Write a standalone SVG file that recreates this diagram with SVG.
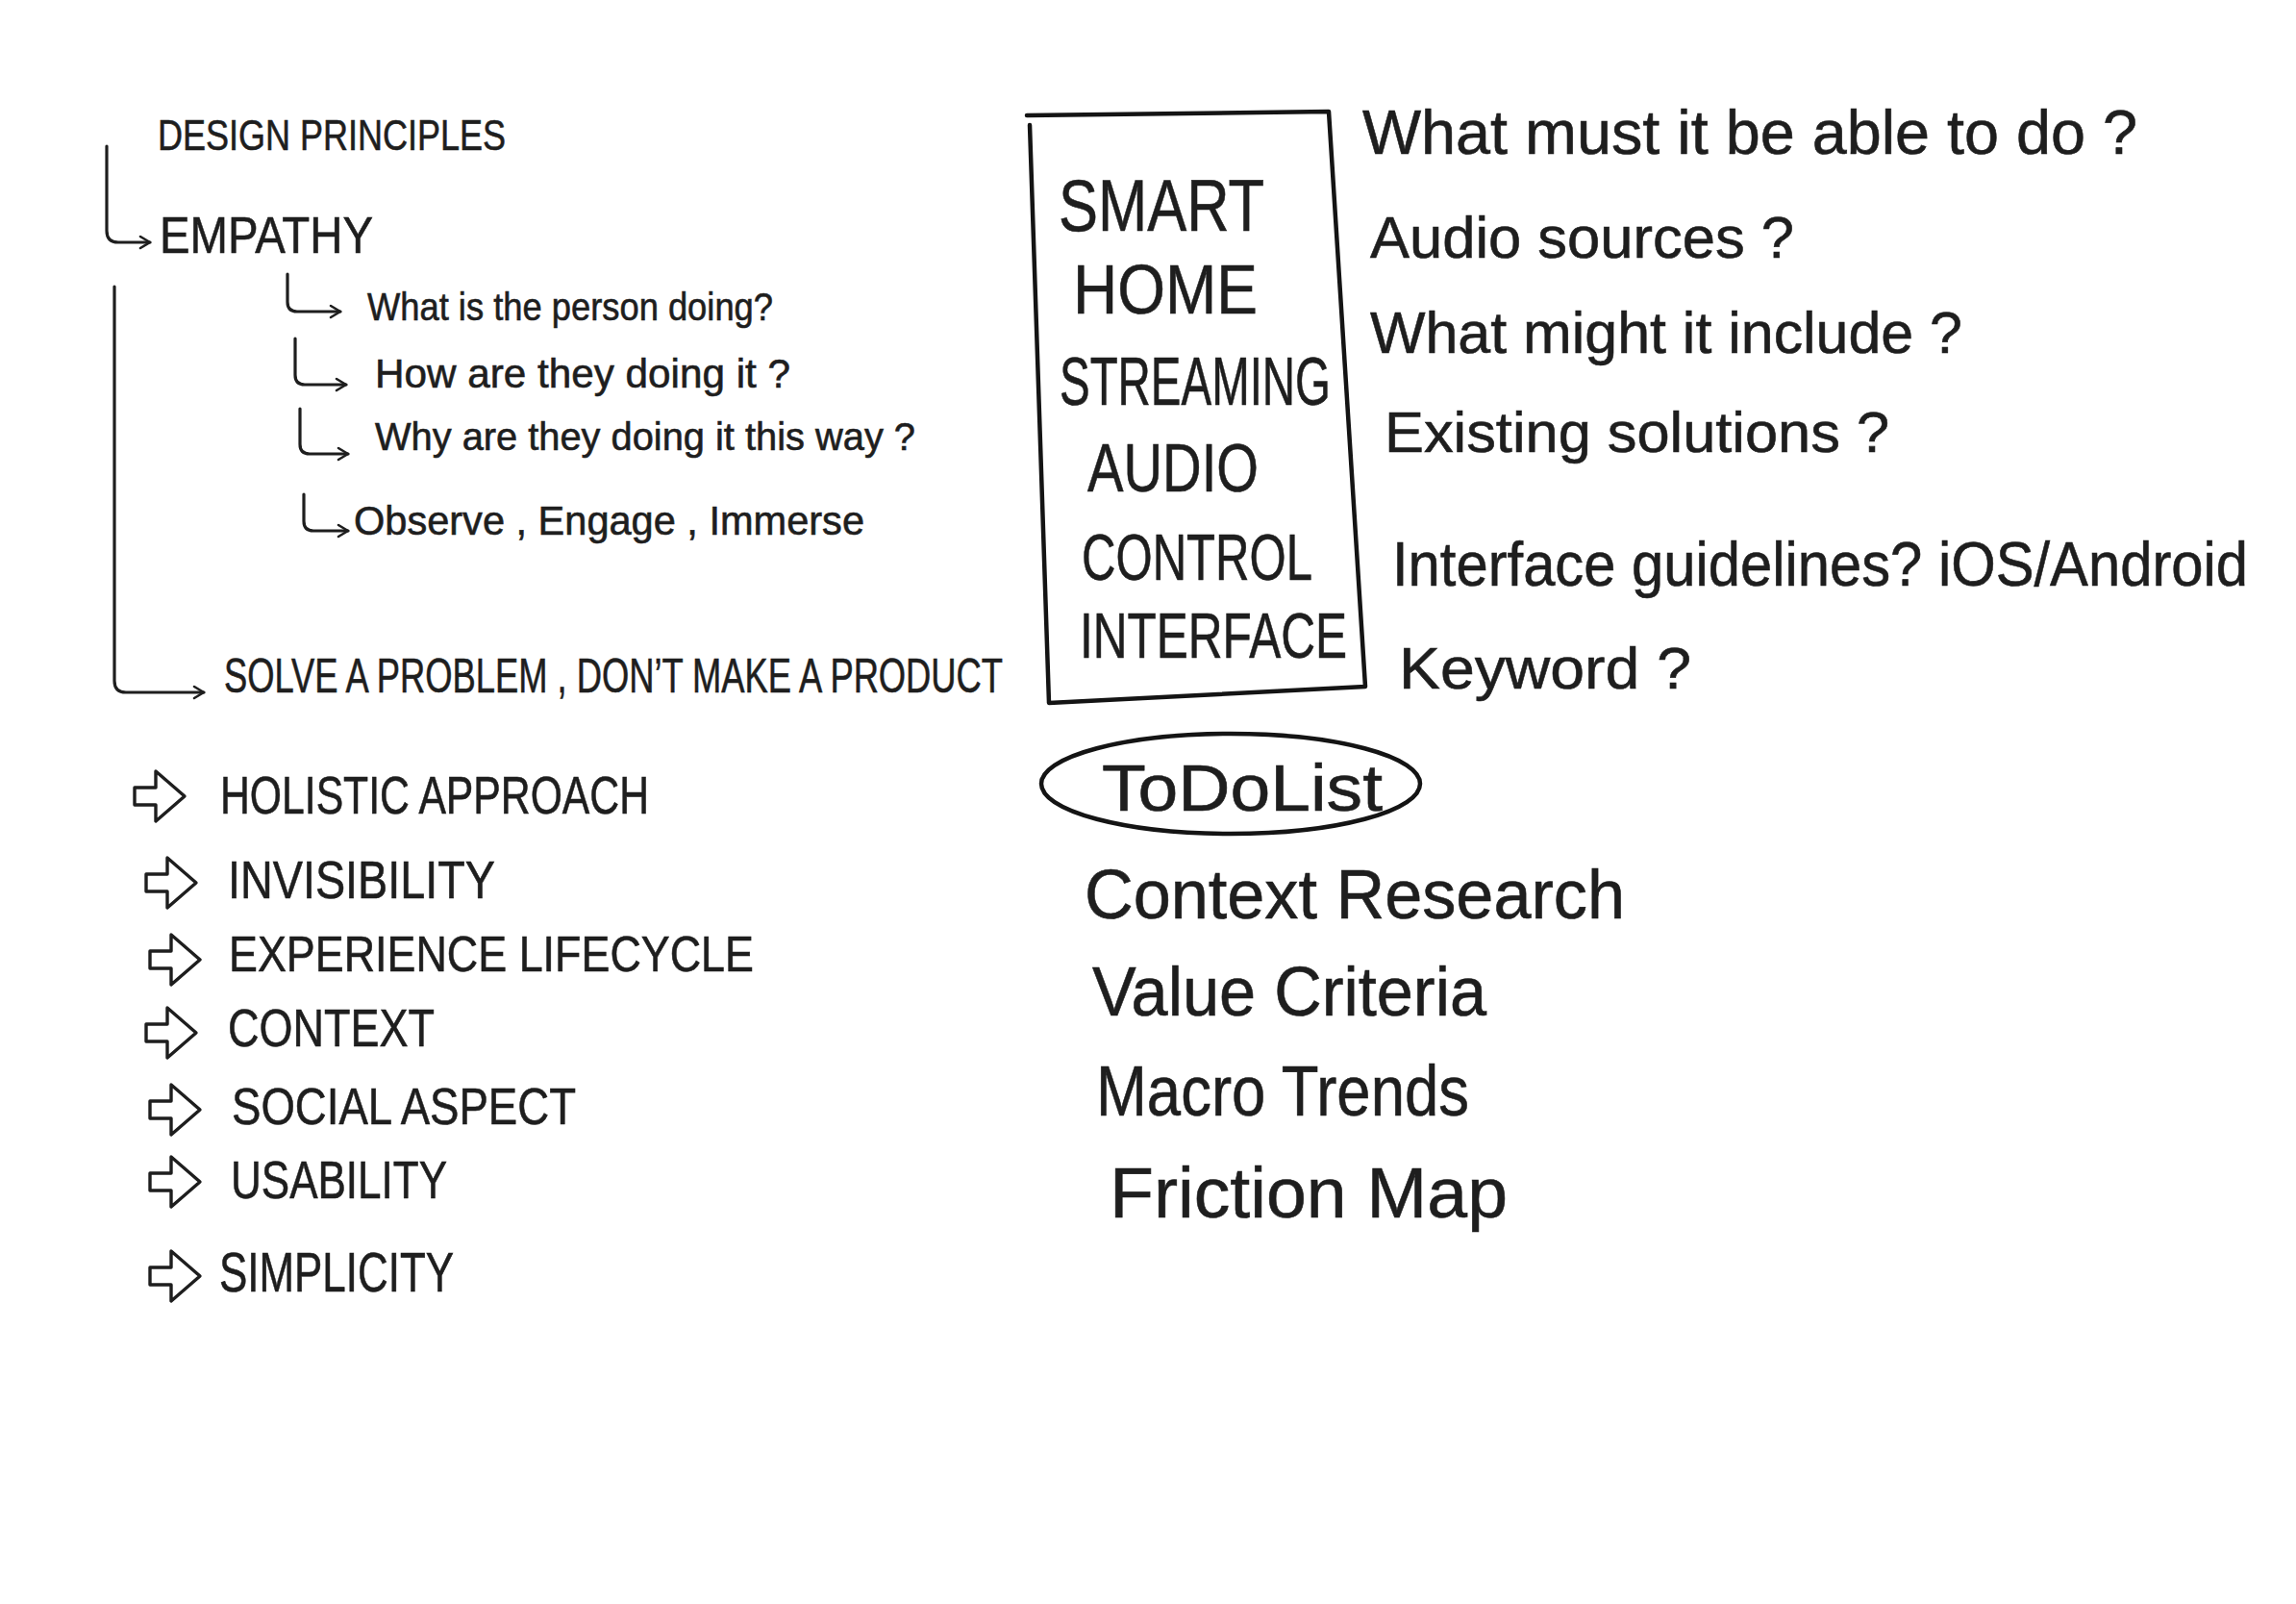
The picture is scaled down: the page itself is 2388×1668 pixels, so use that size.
<svg xmlns="http://www.w3.org/2000/svg" width="2388" height="1668" viewBox="0 0 2388 1668">
<style>
  .ink { fill:#1e1e1e; font-family:"Liberation Sans", Arial, sans-serif; stroke:#1e1e1e; stroke-width:0.6; }
  .ln { fill:none; stroke:#1e1e1e; stroke-width:3.2; stroke-linecap:round; stroke-linejoin:round; }
  .thick { fill:none; stroke:#141414; stroke-width:4.5; stroke-linecap:round; stroke-linejoin:round; }
</style>
<defs>
  <marker id="chev" viewBox="0 0 16 16" refX="13" refY="8" markerWidth="16" markerHeight="16" markerUnits="userSpaceOnUse" orient="auto">
    <path d="M3,2 L13,8 L3,14" fill="none" stroke="#1e1e1e" stroke-width="2.6" stroke-linecap="round" stroke-linejoin="round"/>
  </marker>
  <path id="blk" d="M0,-9 H22 V-26 L52,0 L22,26 V9 H0 Z" fill="none" stroke="#1e1e1e" stroke-width="3.4" stroke-linejoin="round"/>
</defs>
<rect width="2388" height="1668" fill="#ffffff"/>

<g id="connectors">
  <path class="ln" d="M111,152 V240 Q111,252 123,252 H156" marker-end="url(#chev)"/>
  <path class="ln" d="M119,298 V708 Q119,720 131,720 H212" marker-end="url(#chev)"/>
  <path class="ln" d="M299,285 V314 Q299,324 309,324 H354" marker-end="url(#chev)"/>
  <path class="ln" d="M307,352 V390 Q307,400 317,400 H360" marker-end="url(#chev)"/>
  <path class="ln" d="M312,425 V462 Q312,472 322,472 H362" marker-end="url(#chev)"/>
  <path class="ln" d="M316,514 V542 Q316,552 326,552 H362" marker-end="url(#chev)"/>
</g>

<g id="design-principles"><text class="ink" x="164" y="156" font-size="44" textLength="362" lengthAdjust="spacingAndGlyphs">DESIGN PRINCIPLES</text></g>
<g id="empathy"><text class="ink" x="166" y="263" font-size="54" textLength="222" lengthAdjust="spacingAndGlyphs">EMPATHY</text></g>
<g id="q-what"><text class="ink" x="382" y="333" font-size="40" textLength="422" lengthAdjust="spacingAndGlyphs">What is the person doing?</text></g>
<g id="q-how"><text class="ink" x="390" y="403" font-size="42" textLength="432" lengthAdjust="spacingAndGlyphs">How are they doing it ?</text></g>
<g id="q-why"><text class="ink" x="390" y="468" font-size="40" textLength="562" lengthAdjust="spacingAndGlyphs">Why are they doing it this way ?</text></g>
<g id="observe"><text class="ink" x="368" y="556" font-size="42" textLength="531" lengthAdjust="spacingAndGlyphs">Observe , Engage , Immerse</text></g>
<g id="solve"><text class="ink" x="233" y="720" font-size="50" textLength="810" lengthAdjust="spacingAndGlyphs">SOLVE A PROBLEM , DON’T MAKE A PRODUCT</text></g>

<g id="holistic"><use href="#blk" x="140" y="828"/><text class="ink" x="229" y="846" font-size="56" textLength="446" lengthAdjust="spacingAndGlyphs">HOLISTIC  APPROACH</text></g>
<g id="invisibility"><use href="#blk" x="152" y="918"/><text class="ink" x="237" y="934" font-size="56" textLength="278" lengthAdjust="spacingAndGlyphs">INVISIBILITY</text></g>
<g id="experience"><use href="#blk" x="156" y="998"/><text class="ink" x="238" y="1010" font-size="52" textLength="546" lengthAdjust="spacingAndGlyphs">EXPERIENCE  LIFECYCLE</text></g>
<g id="context"><use href="#blk" x="152" y="1074"/><text class="ink" x="237" y="1088" font-size="56" textLength="215" lengthAdjust="spacingAndGlyphs">CONTEXT</text></g>
<g id="social"><use href="#blk" x="156" y="1154"/><text class="ink" x="241" y="1169" font-size="54" textLength="358" lengthAdjust="spacingAndGlyphs">SOCIAL  ASPECT</text></g>
<g id="usability"><use href="#blk" x="156" y="1229"/><text class="ink" x="240" y="1246" font-size="56" textLength="225" lengthAdjust="spacingAndGlyphs">USABILITY</text></g>
<g id="simplicity"><use href="#blk" x="156" y="1327"/><text class="ink" x="228" y="1343" font-size="58" textLength="244" lengthAdjust="spacingAndGlyphs">SIMPLICITY</text></g>

<g id="project-box">
  <path class="thick" d="M1068,120 L1382,116 L1420,714 L1091,731 L1071,130"/>
  <text class="ink" x="1101" y="240" font-size="76" textLength="214" lengthAdjust="spacingAndGlyphs">SMART</text>
  <text class="ink" x="1116" y="326" font-size="72" textLength="192" lengthAdjust="spacingAndGlyphs">HOME</text>
  <text class="ink" x="1102" y="421" font-size="70" textLength="282" lengthAdjust="spacingAndGlyphs">STREAMING</text>
  <text class="ink" x="1131" y="511" font-size="70" textLength="178" lengthAdjust="spacingAndGlyphs">AUDIO</text>
  <text class="ink" x="1125" y="603" font-size="68" textLength="240" lengthAdjust="spacingAndGlyphs">CONTROL</text>
  <text class="ink" x="1123" y="684" font-size="66" textLength="278" lengthAdjust="spacingAndGlyphs">INTERFACE</text>
</g>

<g id="q-able"><text class="ink" x="1417" y="160" font-size="64" textLength="806" lengthAdjust="spacingAndGlyphs">What must it be able to do ?</text></g>
<g id="q-audio"><text class="ink" x="1425" y="268" font-size="62" textLength="441" lengthAdjust="spacingAndGlyphs">Audio sources ?</text></g>
<g id="q-include"><text class="ink" x="1425" y="367" font-size="62" textLength="616" lengthAdjust="spacingAndGlyphs">What might it include ?</text></g>
<g id="q-existing"><text class="ink" x="1440" y="470" font-size="60" textLength="525" lengthAdjust="spacingAndGlyphs">Existing solutions ?</text></g>
<g id="q-interface"><text class="ink" x="1448" y="609" font-size="64" textLength="890" lengthAdjust="spacingAndGlyphs">Interface guidelines?  iOS/Android</text></g>
<g id="q-keyword"><text class="ink" x="1455" y="716" font-size="62" textLength="304" lengthAdjust="spacingAndGlyphs">Keyword ?</text></g>

<g id="todo">
  <ellipse class="thick" cx="1280" cy="815" rx="197" ry="52"/>
  <text class="ink" x="1146" y="843" font-size="68" textLength="292" lengthAdjust="spacingAndGlyphs">ToDoList</text>
</g>
<g id="context-research"><text class="ink" x="1128" y="955" font-size="72" textLength="562" lengthAdjust="spacingAndGlyphs">Context Research</text></g>
<g id="value-criteria"><text class="ink" x="1136" y="1056" font-size="72" textLength="410" lengthAdjust="spacingAndGlyphs">Value Criteria</text></g>
<g id="macro-trends"><text class="ink" x="1140" y="1160" font-size="74" textLength="388" lengthAdjust="spacingAndGlyphs">Macro Trends</text></g>
<g id="friction-map"><text class="ink" x="1154" y="1266" font-size="74" textLength="414" lengthAdjust="spacingAndGlyphs">Friction Map</text></g>
</svg>
